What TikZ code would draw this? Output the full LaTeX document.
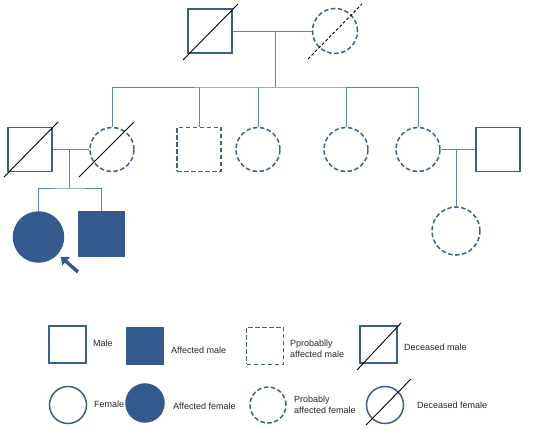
\documentclass[tikz,border=0pt]{standalone}
\usepackage{fontspec}
\setmainfont{Liberation Sans}
\usetikzlibrary{arrows.meta}
\definecolor{pedline}{HTML}{3B5F8E}
\definecolor{pedfill}{HTML}{355B8E}
\definecolor{pedlink}{HTML}{5A85BC}

\begin{document}
\begin{tikzpicture}[x=1pt,y=-1pt]
    \tikzstyle{male}=[rectangle, draw=pedline, line width=1.5pt, minimum size=44pt, inner sep=0pt]
    \tikzstyle{female}=[circle, draw=pedline, line width=1.5pt, minimum size=45pt, inner sep=0pt]
    \tikzstyle{probable}=[dash pattern=on 4.5pt off 2.5pt]
    \tikzstyle{affected}=[fill=pedfill, draw=pedfill]
    \tikzstyle{legsize}=[minimum size=37pt]
    \tikzstyle{link}=[draw=pedlink, line width=0.9pt]
    \tikzstyle{slash}=[draw=black, line width=0.9pt]
    \tikzstyle{legtext}=[anchor=west, inner sep=0pt, align=left, text=black!85, font=\fontsize{9}{11}\selectfont]

    \useasboundingbox (0,0) rectangle (542,430);

    \node [male] (gf) at (210,31) {};
    \node [female, probable] (gm) at (335,31) {};

    \node [male] (h1) at (30,149.5) {};
    \node [female, probable, minimum size=44pt] (w1) at (112,149.5) {};
    \node [male, probable] (c2) at (199,149.5) {};
    \node [female, probable, minimum size=44pt] (c3) at (258,149.5) {};
    \node [female, probable, minimum size=44pt] (c4) at (346,149.5) {};
    \node [female, probable, minimum size=44pt] (c5) at (418,149.5) {};
    \node [male] (h5) at (498,149.5) {};

    \node [female, affected, minimum size=50pt] (p1) at (38.5,237) {};
    \node [male, affected, minimum size=45pt] (s1) at (101.5,234) {};
    \node [female, probable, minimum size=48pt] (gc) at (456,231) {};

    \draw [slash] ([shift={(-27,29)}]gf.center) -- ([shift={(28,-27)}]gf.center);
    \draw [slash, dash pattern=on 3pt off 2pt] ([shift={(-27,28)}]gm.center) -- ([shift={(27,-27)}]gm.center);
    \draw [slash] ([shift={(-26,27.5)}]h1.center) -- ([shift={(28,-27.5)}]h1.center);
    \draw [slash] ([shift={(-33,27.5)}]w1.center) -- ([shift={(22,-27.5)}]w1.center);

    \coordinate (m1) at (275,31);
    \coordinate (sib1) at (275,87);
    \draw [link] (gf.east) -- (gm.west);
    \draw [link] (m1) -- (sib1);
    \draw [link] (w1.north) |- (sib1) -| (c5.north);
    \draw [link] (c2.north) -- (c2.north |- sib1);
    \draw [link] (c3.north) -- (c3.north |- sib1);
    \draw [link] (c4.north) -- (c4.north |- sib1);

    \coordinate (m2) at (69,149.5);
    \coordinate (sib2) at (69,188);
    \draw [link] (h1.east) -- (w1.west);
    \draw [link] (m2) -- (sib2);
    \draw [link] (p1.north) |- (sib2) -| (s1.north);

    \coordinate (m3) at (456,149.5);
    \draw [link] (c5.east) -- (h5.west);
    \draw [link] (m3) -- (gc);

    \coordinate (pa) at (78,272);
    \draw [pedfill, line width=3.5pt, -{Triangle[length=7pt,width=11pt]}, shorten >=4pt] (pa) -- (p1);

    \node [male, legsize] (lm) at (67.5,344.5) {};
    \node [legtext] (lmt) at (93,343) {Male};
    \node [male, affected, legsize] (lam) at (145,346) {};
    \node [legtext] (lamt) at (171,350) {Affected male};
    \node [male, probable, legsize] (lpm) at (265,346) {};
    \node [legtext] (lpmt) at (290,349) {Pprobablly\\affected male};
    \node [male, legsize] (ldm) at (378.5,344.5) {};
    \draw [slash] ([shift={(-21.5,25.5)}]ldm.center) -- ([shift={(22.5,-21.5)}]ldm.center);
    \node [legtext] (ldmt) at (404,347) {Deceased male};

    \node [female, legsize] (lf) at (68,405) {};
    \node [legtext] (lft) at (94,404) {Female};
    \node [female, affected, legsize, minimum size=38pt] (laf) at (145,403) {};
    \node [legtext] (laft) at (173,406) {Affected female};
    \node [female, probable, legsize, minimum size=36pt] (lpf) at (268,405) {};
    \node [legtext] (lpft) at (294,405) {Probably\\affected female};
    \node [female, legsize] (ldf) at (385,405) {};
    \draw [slash] ([shift={(-19,20)}]ldf.center) -- ([shift={(26,-26)}]ldf.center);
    \node [legtext] (ldft) at (417,405) {Deceased female};
  \end{tikzpicture}
\end{document}
